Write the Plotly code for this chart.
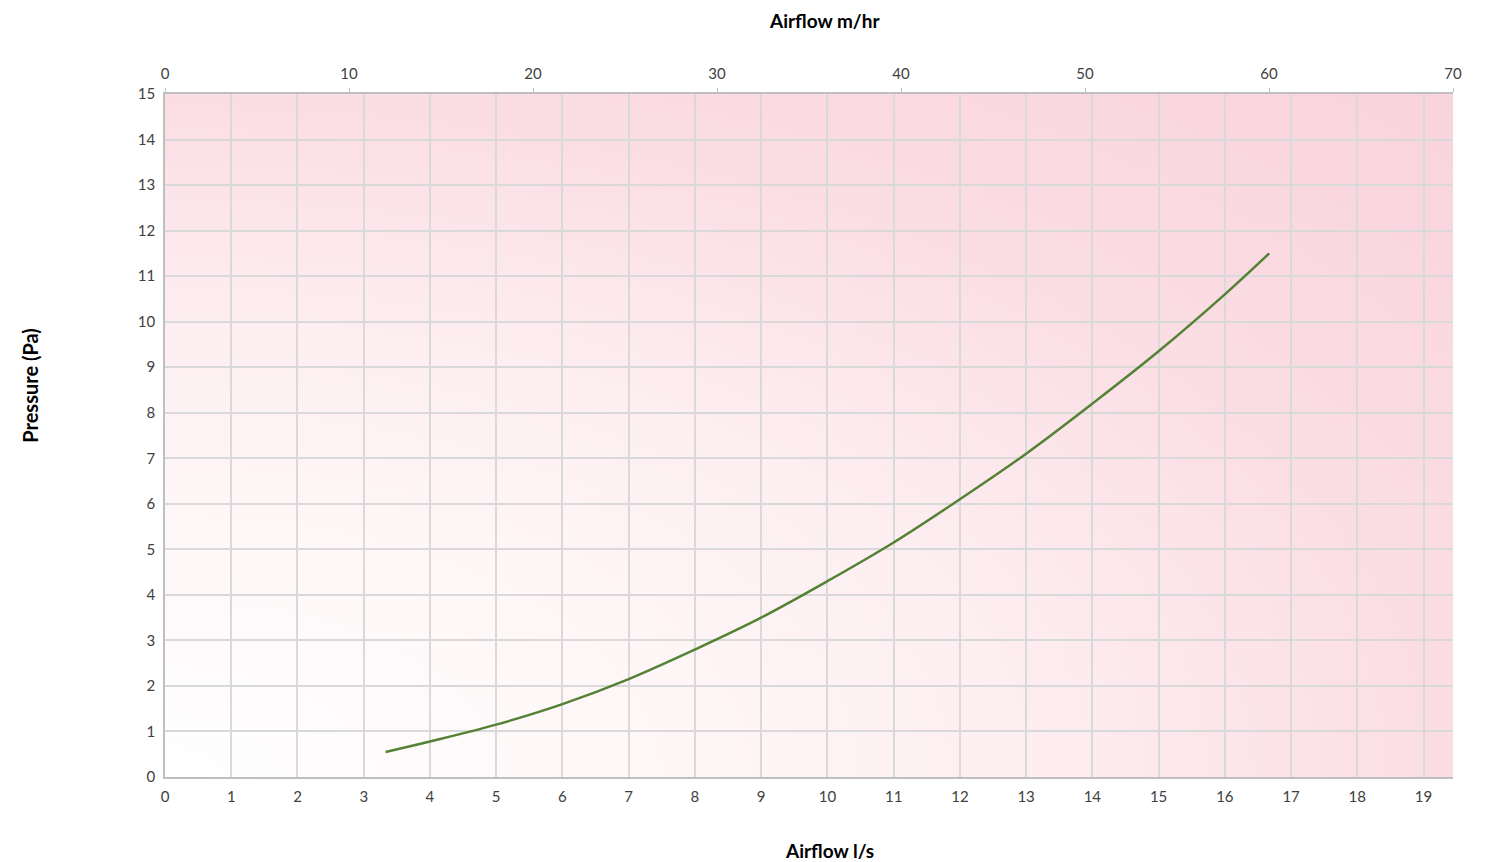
import plotly.graph_objects as go

# fan curve (airflow l/s -> pressure Pa)
airflow_ls = [3.33, 4, 5, 6, 7, 8, 9, 10, 11, 12, 13, 14, 15, 16, 16.67]
pressure_pa = [0.55, 0.78, 1.15, 1.6, 2.15, 2.8, 3.5, 4.3, 5.15, 6.1, 7.1, 8.2, 9.35, 10.6, 11.5]

bottom_ticks = list(range(0, 20))
top_ticks = [0, 10, 20, 30, 40, 50, 60, 70]
y_ticks = list(range(0, 16))

GREEN = "#548235"
GRID = "#d9d9d9"
AXIS = "#bfbfbf"
FONT = "Lato, 'Open Sans', sans-serif"
TICK_FONT = dict(size=15, color="#404040")
TITLE_FONT = dict(family=FONT, size=19, color="#000")

# Excel-style radial fill spreading from the bottom-left corner
GRADIENT_SVG = (
    "data:image/svg+xml;utf8,"
    "<svg xmlns='http://www.w3.org/2000/svg' width='100' height='100' preserveAspectRatio='none'>"
    "<defs><radialGradient id='g' cx='0' cy='1' r='1.414' fx='0' fy='1'>"
    "<stop offset='0' stop-color='%23ffffff'/>"
    "<stop offset='0.31' stop-color='%23fef5f6'/>"
    "<stop offset='0.47' stop-color='%23fdeef1'/>"
    "<stop offset='0.71' stop-color='%23fbdde4'/>"
    "<stop offset='1' stop-color='%23f9d3dd'/>"
    "</radialGradient></defs>"
    "<rect width='100' height='100' fill='url(%23g)'/></svg>"
)

fig = go.Figure()
fig.add_trace(go.Scatter(
    x=airflow_ls, y=pressure_pa, mode="lines",
    line=dict(color=GREEN, width=2.5, shape="spline"),
    showlegend=False, hoverinfo="x+y",
))
# invisible trace so the top axis (m3/hr) is drawn
fig.add_trace(go.Scatter(
    x=[top_ticks[0], top_ticks[-1]], y=[0, 0], xaxis="x2", mode="markers",
    marker=dict(opacity=0), showlegend=False, hoverinfo="skip",
))

fig.update_layout(
    width=1485, height=862,
    paper_bgcolor="white", plot_bgcolor="rgba(0,0,0,0)",
    font=dict(family=FONT, size=15, color="#404040"),
    margin=dict(l=157, r=40, t=86, b=93, autoexpand=False),
    images=[dict(source=GRADIENT_SVG, xref="paper", yref="paper", x=0, y=1,
                 sizex=1, sizey=1, sizing="stretch", layer="below")],
    xaxis=dict(
        range=[0, 70 / 3.6], tickvals=bottom_ticks, showgrid=True, gridcolor=GRID,
        gridwidth=1.5, showline=True, linecolor=AXIS, linewidth=1.5, zeroline=False,
        ticks="", tickfont=TICK_FONT, ticklabelstandoff=5,
    ),
    xaxis2=dict(
        range=[0, 70], tickvals=top_ticks, overlaying="x", side="top", showgrid=False,
        showline=True, linecolor=AXIS, linewidth=1.5, zeroline=False,
        ticks="outside", ticklen=4, tickcolor=AXIS, tickfont=TICK_FONT, ticklabelstandoff=3,
    ),
    yaxis=dict(
        range=[0, 15], tickvals=y_ticks, showgrid=True, gridcolor=GRID, gridwidth=1.5,
        showline=True, linecolor=AXIS, linewidth=1.5, zeroline=False, ticks="",
        tickfont=TICK_FONT, ticklabelstandoff=5,
    ),
    annotations=[
        dict(text="<b>Airflow m/hr</b>", xref="paper", yref="paper", x=0.512, y=1.107,
             xanchor="center", yanchor="middle", showarrow=False, font=TITLE_FONT),
        dict(text="<b>Airflow l/s</b>", xref="paper", yref="paper", x=0.516, y=-0.107,
             xanchor="center", yanchor="middle", showarrow=False, font=TITLE_FONT),
        dict(text="<b>Pressure (Pa)</b>", xref="paper", yref="paper", x=-0.105, y=0.574,
             xanchor="center", yanchor="middle", textangle=-90, showarrow=False,
             font=dict(family=FONT, size=20, color="#000")),
    ],
)

fig.write_html("out.html")
